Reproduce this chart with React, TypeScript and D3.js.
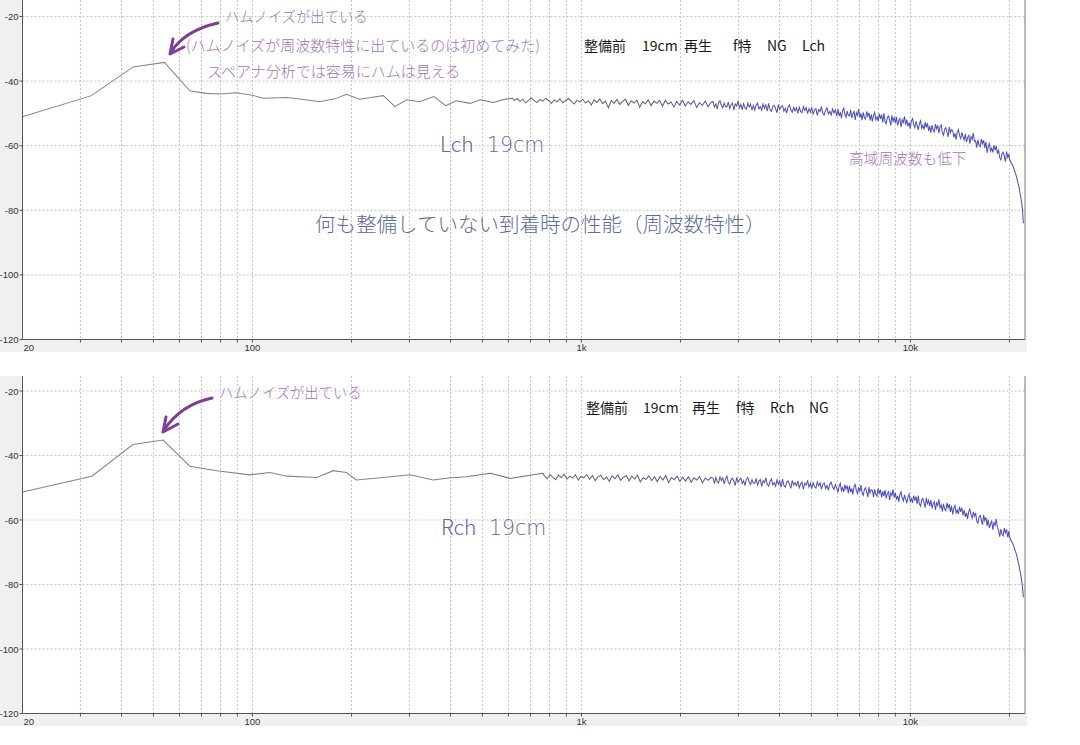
import React from 'react'
import * as d3 from 'd3'

// ---- data ----

const Y_TICKS = [-20, -40, -60, -80, -100, -120]
const X_TICKS = [20, 100, 1000, 10000]
const X_TICK_LABELS = ['20', '100', '1k', '10k']
const GRID_FREQS = [30, 40, 50, 60, 70, 80, 90, 100, 200, 300, 400, 500, 600, 700, 800, 900,
  1000, 2000, 3000, 4000, 5000, 6000, 7000, 8000, 9000, 10000, 20000]

// Lch 19cm
const lchLow: [number, number][] = [
  [20, -51.0], [32.4, -44.5], [43.4, -35.6], [54, -34.2], [64.5, -43.0], [72.3, -43.8],
  [80, -44.0], [89, -43.6], [100, -44.4], [108, -45.3], [128, -45.1], [145, -45.8],
  [160, -46.4], [178, -45.5], [193, -44.1], [212, -45.6], [232, -45.0], [250, -44.5],
  [271, -47.9], [294, -45.8], [322, -46.4], [356, -44.8], [387, -47.6], [416, -46.1],
  [458, -46.9], [493, -45.8], [540, -46.6], [580, -45.7], [619, -45.3]
]
const lchMid = [
  -46.0, -45.4, -46.3, -45.6, -46.8, -45.9, -45.2, -46.1, -46.6, -45.7,
  -46.2, -45.3, -46.0, -46.9, -45.8, -46.4, -45.5, -46.7, -46.0, -45.4,
  -46.3, -47.1, -45.9, -46.5, -45.6, -46.8, -46.1, -47.4, -45.8, -46.6,
  -45.5, -47.0, -46.2, -48.3, -46.0, -46.9, -45.7, -47.2, -46.3, -45.6,
  -47.5, -46.1, -46.8, -45.9, -48.1, -46.4, -47.0, -45.8, -47.6, -46.2,
  -46.9, -46.0, -47.8, -45.9, -47.1, -46.5, -48.0, -46.3, -47.4, -45.9,
  -47.7, -46.4, -47.2, -46.0, -48.2, -46.7, -47.5, -46.2, -47.9, -46.6
]
const lchHigh1 = [
  -46.3, -48.0, -47.1, -48.6, -46.7, -46.1, -47.6, -48.3, -46.8, -47.9,
  -47.9, -46.4, -48.5, -47.3, -46.8, -48.9, -47.1, -47.7, -46.2, -48.3,
  -47.2, -48.9, -47.0, -48.3, -48.7, -46.8, -48.0, -47.1, -49.0, -47.5,
  -49.0, -47.5, -46.8, -48.6, -47.9, -49.0, -47.1, -48.4, -47.4, -49.3,
  -46.9, -48.9, -49.4, -47.9, -47.5, -48.5, -49.8, -47.3, -48.8, -48.0,
  -47.6, -49.3, -48.4, -49.9, -48.0, -47.4, -48.9, -49.6, -48.1, -49.2,
  -48.3, -50.0, -48.1, -49.4, -49.8, -47.9, -49.1, -48.2, -50.1, -48.6,
  -49.6, -48.1, -50.2, -49.0, -48.5, -50.6, -48.8, -49.4, -47.9, -50.0,
  -50.5, -49.0, -48.3, -50.1, -49.4, -50.5, -48.6, -49.9, -48.9, -50.8
]
const lchHigh2 = [
  -48.7, -50.8, -49.6, -51.5, -49.1, -48.4, -50.3, -51.2, -49.3, -50.6,
  -50.8, -48.9, -51.5, -50.1, -49.4, -52.0, -49.8, -50.6, -48.7, -51.3,
  -50.0, -52.1, -49.7, -51.3, -51.8, -49.4, -50.9, -49.8, -52.2, -50.3,
  -52.5, -50.6, -49.7, -52.0, -51.1, -52.4, -50.1, -51.7, -50.4, -52.8,
  -50.0, -52.5, -53.2, -51.3, -50.8, -52.1, -53.7, -50.6, -52.4, -51.4,
  -53.0, -51.1, -53.7, -52.3, -51.6, -54.2, -52.0, -52.8, -50.9, -53.5,
  -51.9, -54.0, -52.8, -54.7, -52.3, -51.6, -53.5, -54.4, -52.5, -53.8,
  -55.1, -53.2, -52.3, -54.6, -53.7, -55.0, -52.7, -54.3, -53.0, -55.4,
  -53.9, -56.0, -53.6, -55.2, -55.7, -53.3, -54.8, -53.7, -56.1, -54.2,
  -53.6, -56.1, -56.8, -54.9, -54.4, -55.7, -57.3, -54.2, -56.0, -55.0,
  -55.3, -57.4, -56.2, -58.1, -55.7, -55.0, -56.9, -57.8, -55.9, -57.2,
  -58.2, -56.3, -58.9, -57.5, -56.8, -59.4, -57.2, -58.0, -56.1, -58.7,
  -58.5, -60.6, -58.2, -59.8, -60.3, -57.9, -59.4, -58.3, -60.7, -58.8,
  -62.2, -60.3, -59.4, -61.7, -60.8, -62.1, -59.8, -61.4, -60.1, -62.5,
  -61.2, -63.7, -64.4, -62.5, -62.0, -63.3, -64.9, -61.8, -63.6, -62.6
]
const lchTail: [number, number][] = [
  [20000, -64.2], [20500, -66.3], [21000, -69.5], [21400, -73.0], [21700, -76.5], [21900, -79.5], [22050, -84.0]
]

// Rch 19cm
const rchLow: [number, number][] = [
  [20, -51.3], [32.5, -46.4], [43.3, -36.6], [53.5, -35.2], [64.5, -43.3], [78, -44.7],
  [98, -46.0], [113, -45.3], [127, -46.4], [157, -46.8], [176, -44.7], [193, -45.3],
  [207, -47.6], [250, -46.8], [301, -46.0], [354, -47.6], [400, -46.9], [448, -46.6],
  [528, -45.5], [607, -47.1], [690, -46.2], [764, -45.5]
]
const rchMid = [
  -46.3, -47.2, -45.9, -46.8, -47.5, -46.1, -46.9, -45.8, -47.3, -46.4,
  -47.0, -46.0, -47.6, -46.5, -46.9, -45.9, -47.4, -46.2, -47.8, -46.6,
  -46.1, -47.5, -46.7, -48.0, -46.3, -47.2, -46.0, -47.7, -46.8, -46.2,
  -47.9, -46.4, -47.3, -46.1, -48.2, -46.9, -47.4, -46.3, -47.8, -46.6,
  -48.1, -46.5, -47.6, -46.2, -48.4, -46.8, -47.5, -46.4, -48.0, -46.7,
  -47.9, -46.6, -48.3, -46.9, -47.6, -46.5, -48.5, -47.0, -47.7, -46.8
]
const rchHigh1 = [
  -47.0, -48.7, -46.8, -48.1, -48.5, -46.6, -47.8, -46.9, -48.8, -47.3,
  -46.4, -48.4, -48.9, -47.4, -47.0, -48.0, -49.3, -46.8, -48.3, -47.5,
  -47.0, -48.7, -47.8, -49.3, -47.4, -46.8, -48.3, -49.0, -47.5, -48.6,
  -48.6, -47.1, -49.2, -48.0, -47.5, -49.6, -47.8, -48.4, -46.9, -49.0,
  -49.5, -48.0, -47.3, -49.1, -48.4, -49.5, -47.6, -48.9, -47.9, -49.8,
  -47.3, -49.3, -49.8, -48.3, -47.9, -48.9, -50.2, -47.7, -49.2, -48.4,
  -49.4, -47.9, -50.0, -48.8, -48.3, -50.4, -48.6, -49.2, -47.7, -49.8,
  -48.6, -50.3, -48.4, -49.7, -50.1, -48.2, -49.4, -48.5, -50.4, -48.9,
  -48.5, -50.2, -49.3, -50.8, -48.9, -48.3, -49.8, -50.5, -49.0, -50.1
]
const rchHigh2 = [
  -51.4, -49.5, -48.6, -50.9, -50.0, -51.3, -49.0, -50.6, -49.3, -51.7,
  -49.3, -51.4, -50.2, -52.1, -49.7, -49.0, -50.9, -51.8, -49.9, -51.2,
  -49.2, -51.7, -52.4, -50.5, -50.0, -51.3, -52.9, -49.8, -51.6, -50.6,
  -50.8, -52.9, -50.5, -52.1, -52.6, -50.2, -51.7, -50.6, -53.0, -51.1,
  -52.6, -50.7, -53.3, -51.9, -51.2, -53.8, -51.6, -52.4, -50.5, -53.1,
  -51.6, -53.7, -52.5, -54.4, -52.0, -51.3, -53.2, -54.1, -52.2, -53.5,
  -54.8, -52.9, -52.0, -54.3, -53.4, -54.7, -52.4, -54.0, -52.7, -55.1,
  -52.5, -55.0, -55.7, -53.8, -53.3, -54.6, -56.2, -53.1, -54.9, -53.9,
  -55.7, -53.8, -56.4, -55.0, -54.3, -56.9, -54.7, -55.5, -53.6, -56.2,
  -55.3, -57.4, -55.0, -56.6, -57.1, -54.7, -56.2, -55.1, -57.5, -55.6,
  -58.3, -56.4, -55.5, -57.8, -56.9, -58.2, -55.9, -57.5, -56.2, -58.6,
  -56.9, -59.0, -57.8, -59.7, -57.3, -56.6, -58.5, -59.4, -57.5, -58.8,
  -57.8, -60.3, -61.0, -59.1, -58.6, -59.9, -61.5, -58.4, -60.2, -59.2,
  -61.8, -59.9, -62.5, -61.1, -60.4, -63.0, -60.8, -61.6, -59.7, -62.3,
  -63.1, -65.2, -62.8, -64.4, -64.9, -62.5, -64.0, -62.9, -65.3, -63.4
]
const rchTail: [number, number][] = [
  [20000, -65.3], [20500, -67.5], [21000, -70.6], [21400, -74.2], [21700, -77.6], [21900, -80.6], [22050, -84.0]
]

type Seg = { from: number; to: number; values: number[] }

// fft bins are spread evenly (in log f) inside each segment
function buildSeries(low: [number, number][], segs: Seg[], tail: [number, number][]) {
  const pts: [number, number][] = [...low]
  segs.forEach(seg => {
    const n = seg.values.length
    seg.values.forEach((v, i) => {
      pts.push([seg.from * Math.pow(seg.to / seg.from, (i + 0.5) / n), v])
    })
  })
  return pts.concat(tail)
}

const lchSeries = buildSeries(lchLow, [
  { from: 619, to: 2500, values: lchMid },
  { from: 2500, to: 6000, values: lchHigh1 },
  { from: 6000, to: 20000, values: lchHigh2 }
], lchTail)

const rchSeries = buildSeries(rchLow, [
  { from: 764, to: 2500, values: rchMid },
  { from: 2500, to: 6000, values: rchHigh1 },
  { from: 6000, to: 20000, values: rchHigh2 }
], rchTail)

const W = 1080
const H = 745
const X_LEFT = 22.5
const X_RIGHT = 1025
const xScale = d3.scaleLog().domain([20, 22300]).range([X_LEFT, X_RIGHT])

const PURPLE = '#a274ba'
const ARROW = '#7c3f95'
const BLUE = '#5d6ca0'
const JP = '"Noto Sans CJK JP", "Noto Sans", sans-serif'
const WIDE = '"DejaVu Sans", sans-serif'

interface PanelProps {
  id: string
  top: number
  y20: number
  y120: number
  series: [number, number][]
  children?: React.ReactNode
}

function Panel({ id, top, y20, y120, series, children }: PanelProps) {
  const yScale = d3.scaleLinear().domain([-120, -20]).range([y120, y20])
  const line = d3.line<[number, number]>()
    .x(d => xScale(d[0]))
    .y(d => yScale(d[1]))
  const stripBottom = y120 + 12.5

  return (
    <g>
      <defs>
        <linearGradient id={`grad-${id}`} gradientUnits="userSpaceOnUse"
          x1={xScale(300)} x2={xScale(6000)} y1={0} y2={0}>
          <stop offset="0" stopColor="#858585" />
          <stop offset="0.45" stopColor="#62627e" />
          <stop offset="1" stopColor="#5050bc" />
        </linearGradient>
      </defs>
      {/* gray frame: left margin and label strip */}
      <rect x={0} y={top} width={X_LEFT} height={stripBottom - top} fill="#f0f0f0" />
      <rect x={0} y={y120} width={X_RIGHT + 2} height={stripBottom - y120} fill="#f0f0f0" />
      <rect x={X_LEFT} y={top} width={X_RIGHT - X_LEFT} height={y120 - top} fill="#fff" />

      {/* grid */}
      {Y_TICKS.filter(v => v > -120).map(v => (
        <line key={`h${v}`} x1={X_LEFT} x2={X_RIGHT} y1={yScale(v)} y2={yScale(v)}
          stroke="#c4c4c4" strokeDasharray="2,2" />
      ))}
      {GRID_FREQS.map(f => (
        <line key={`v${f}`} x1={xScale(f)} x2={xScale(f)} y1={top} y2={y120}
          stroke="#c4c4c4" strokeDasharray="2,2" />
      ))}

      {/* axes */}
      <line x1={X_LEFT} x2={X_LEFT} y1={top} y2={y120} stroke="#555" />
      <line x1={X_LEFT} x2={X_RIGHT} y1={y120} y2={y120} stroke="#555" />
      <line x1={X_RIGHT} x2={X_RIGHT} y1={top} y2={y120} stroke="#777" />
      {GRID_FREQS.map(f => (
        <line key={`t${f}`} x1={xScale(f)} x2={xScale(f)} y1={y120} y2={y120 + 3} stroke="#555" />
      ))}
      {Y_TICKS.map(v => (
        <g key={`yl${v}`}>
          <line x1={X_LEFT - 3} x2={X_LEFT} y1={yScale(v)} y2={yScale(v)} stroke="#555" />
          <text x={X_LEFT - 4} y={yScale(v) + 3.5} textAnchor="end" fontSize={9.5}
            fontFamily="'Liberation Sans', sans-serif" fill="#333">{v}</text>
        </g>
      ))}
      {X_TICKS.map((f, i) => (
        <text key={`xl${f}`} x={i === 0 ? xScale(f) + 1 : xScale(f)} y={y120 + 11}
          textAnchor={i === 0 ? 'start' : 'middle'} fontSize={9.5}
          fontFamily="'Liberation Sans', sans-serif" fill="#333">{X_TICK_LABELS[i]}</text>
      ))}

      {/* response curve */}
      <path d={line(series) ?? ''} fill="none" stroke={`url(#grad-${id})`} strokeWidth={1.05} />

      {children}
    </g>
  )
}

function Arrow({ d, head }: { d: string; head: string }) {
  return (
    <g fill="none" stroke={ARROW} strokeWidth={3} strokeLinecap="round" strokeLinejoin="round">
      <path d={d} />
      <path d={head} />
    </g>
  )
}

export default function App() {
  return (
    <svg width={W} height={H} style={{ position: 'absolute', left: 0, top: 0, background: '#fff' }}>
      <rect width={W} height={H} fill="#fff" />

      <Panel id="l" top={0} y20={16.5} y120={339.5} series={lchSeries}>
        <Arrow d="M218,23 C200,27 182,35 171,52" head="M173,39 L170,54 L184,47" />
        <g fontFamily={JP} fill={PURPLE} fontWeight={300}>
          <text x={225} y={22} fontSize={14.3}>ハムノイズが出ている</text>
          <text x={186} y={51} fontSize={15}>(ハムノイズが周波数特性に出ているのは初めてみた)</text>
          <text x={207} y={77} fontSize={15}>スペアナ分析では容易にハムは見える</text>
          <text x={849} y={164} fontSize={14.7}>高域周波数も低下</text>
        </g>
        <g fontFamily={JP} fill="#1a1a1a" fontSize={14}>
          <text x={584} y={51}>整備前</text>
          <text x={642} y={51}>19cm</text>
          <text x={684} y={51}>再生</text>
          <text x={733} y={51}>f特</text>
          <text x={767} y={51}>NG</text>
          <text x={802} y={51}>Lch</text>
        </g>
        <g fill={BLUE} fontWeight={300}>
          <text x={440} y={152} fontSize={21} fontFamily={JP}>Lch</text>
          <text x={487} y={152} fontSize={20.5} fontFamily={WIDE}>19cm</text>
          <text x={315} y={232} fontSize={20.5} fontFamily={JP}>何も整備していない到着時の性能（周波数特性）</text>
        </g>
      </Panel>

      <Panel id="r" top={376} y20={391} y120={713.5} series={rchSeries}>
        <Arrow d="M212,398 C193,402 176,412 164,430" head="M166,417 L163,432 L178,424" />
        <g fontFamily={JP} fill={PURPLE} fontWeight={300}>
          <text x={219} y={398} fontSize={14.3}>ハムノイズが出ている</text>
        </g>
        <g fontFamily={JP} fill="#1a1a1a" fontSize={14}>
          <text x={586} y={413}>整備前</text>
          <text x={643} y={413}>19cm</text>
          <text x={692} y={413}>再生</text>
          <text x={736} y={413}>f特</text>
          <text x={770} y={413}>Rch</text>
          <text x={809} y={413}>NG</text>
        </g>
        <g fill={BLUE} fontWeight={300}>
          <text x={441} y={535} fontSize={21} fontFamily={JP}>Rch</text>
          <text x={489} y={535} fontSize={20.5} fontFamily={WIDE}>19cm</text>
        </g>
      </Panel>
    </svg>
  )
}
